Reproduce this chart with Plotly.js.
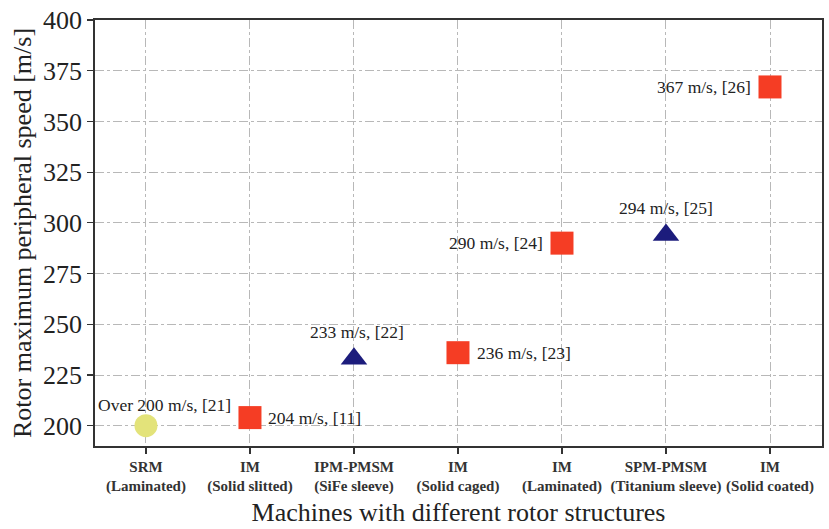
<!DOCTYPE html>
<html><head><meta charset="utf-8">
<script src="https://cdn.plot.ly/plotly-3.0.1.min.js"></script>
<style>html,body{margin:0;padding:0;background:#fff}#chart{width:829px;height:529px}</style>
</head><body><div id="chart"></div>
<script>
const machineTypes = ["SRM","IM","IPM-PMSM","IM","IM","SPM-PMSM","IM"];
const rotorTypes = ["Laminated","Solid slitted","SiFe sleeve","Solid caged","Laminated","Titanium sleeve","Solid coated"];
const speeds = [200,204,233,236,290,294,367];
const refs = ["21","11","22","23","24","25","26"];
const groups = ["SRM","IM","PMSM","IM","IM","PMSM","IM"];
const labelPrefix = ["Over ","","","","","",""];

const idx = machineTypes.map((_,i)=>i);
const tickText = machineTypes.map((m,i)=>"<b>"+m+"</b><br><b>("+rotorTypes[i]+")</b>");

const styles = {
  SRM: {symbol:"circle", color:"#e3e37a", size:23},
  IM: {symbol:"square", color:"#f53d24", size:23},
  PMSM: {symbol:"triangle-up", color:"#1c1c7c", size:23}
};
const traces = Object.keys(styles).map(g=>{
  const ii = idx.filter(i=>groups[i]===g);
  return {type:"scatter", mode:"markers", x:ii, y:ii.map(i=>speeds[i]),
    marker:{symbol:styles[g].symbol, color:styles[g].color, size:styles[g].size, line:{width:0}},
    showlegend:false, hoverinfo:"skip"};
});

// label placements (offsets only)
const place = [
  {xanchor:"center", yanchor:"bottom", xs:19, ys:9},
  {xanchor:"left", yanchor:"middle", xs:16, ys:0},
  {xanchor:"center", yanchor:"bottom", xs:3, ys:15},
  {xanchor:"left", yanchor:"middle", xs:17, ys:0},
  {xanchor:"right", yanchor:"middle", xs:-17, ys:0},
  {xanchor:"center", yanchor:"bottom", xs:0, ys:15},
  {xanchor:"right", yanchor:"middle", xs:-17, ys:0}
];
const annotations = idx.map(i=>({
  x:i, y:speeds[i], xref:"x", yref:"y", showarrow:false,
  text: labelPrefix[i]+speeds[i]+" m/s, ["+refs[i]+"]",
  xanchor:place[i].xanchor, yanchor:place[i].yanchor, xshift:place[i].xs, yshift:place[i].ys,
  font:{family:"Liberation Serif", size:17.5, color:"#222"}
}));

const layout = {
  width:829, height:529,
  margin:{l:95, r:7, t:20, b:83},
  paper_bgcolor:"#fff", plot_bgcolor:"#fff",
  font:{family:"Liberation Serif", color:"#222"},
  xaxis:{range:[-0.49,6.5], tickvals:idx, ticktext:tickText,
    tickfont:{family:"Liberation Serif", size:15, color:"#333"},
    showline:true, linecolor:"#333", linewidth:1.8, mirror:true,
    ticks:"outside", ticklen:6, tickcolor:"#333", tickwidth:1.2,
    showgrid:true, gridcolor:"#b8b8b8", griddash:"dashdot", gridwidth:1, zeroline:false,
    title:{text:"Machines with different rotor structures", font:{family:"Liberation Serif", size:26, color:"#222"}, standoff:8}},
  yaxis:{range:[190,400], tickvals:[200,225,250,275,300,325,350,375,400],
    tickfont:{family:"Liberation Serif", size:26, color:"#222"},
    showline:true, linecolor:"#333", linewidth:1.8, mirror:true,
    ticks:"outside", ticklen:6, tickcolor:"#333", tickwidth:1.2,
    showgrid:true, gridcolor:"#b8b8b8", griddash:"dashdot", gridwidth:1, zeroline:false,
    title:{text:"Rotor maximum peripheral speed [m/s]", font:{family:"Liberation Serif", size:26, color:"#222"}, standoff:4}},
  annotations:annotations
};
Plotly.newPlot("chart", traces, layout, {displayModeBar:false, staticPlot:true});
</script></body></html>
